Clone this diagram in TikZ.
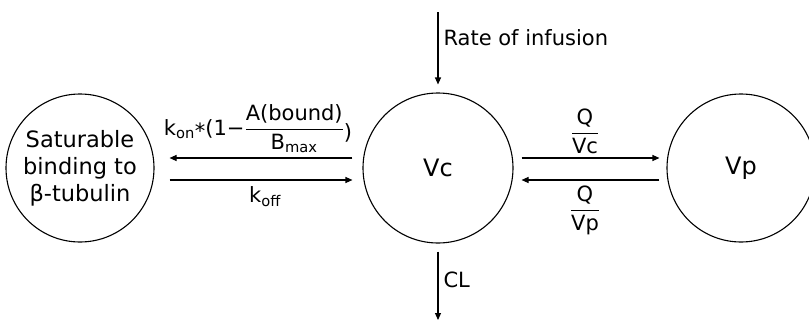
\documentclass[tikz,border=0pt]{standalone}
\usepackage{fontspec}
\setmainfont{DejaVu Sans}
\usepackage{amsmath}
\usepackage{tikz}
\usetikzlibrary{shapes,arrows.meta}

\tikzset{
    comp/.style={draw, circle, line width=1.1pt, align=center, inner sep=0pt,
        font=\fontsize{22.5}{27}\selectfont},
    flow/.style={-{Triangle[length=7pt,width=6pt]}, line width=1.1pt},
    lab/.style={font=\fontsize{21}{24}\selectfont}
}

\begin{document}
\begin{tikzpicture}[x=1pt, y=-1pt, lab]
    \useasboundingbox (0,0) rectangle (809,322);
    \node[comp, minimum size=148pt] (sat) at (80,168) {Saturable\\ binding to\\ β-tubulin};
    \node[comp, minimum size=150pt, font=\fontsize{24}{28}\selectfont] (vc) at (438,168) {Vc};
    \node[comp, minimum size=148pt, font=\fontsize{24}{28}\selectfont] (vp) at (741,168) {Vp};
    \coordinate (inf) at (438,12);
    \coordinate (elim) at (438,320);
    % binding to tubulin
    \draw[flow, shorten <=10pt, shorten >=15pt] ([yshift=10pt]vc.west) -- ([yshift=10pt]sat.east);
    \draw[flow, shorten <=15pt, shorten >=10pt] ([yshift=-12pt]sat.east) -- ([yshift=-12pt]vc.west);
    \node[anchor=base] (kon) at (258,135)
        {$\text{k}_{\text{on}}\text{\raisebox{-0.3ex}{*}(1−}\dfrac{\text{A(bound)}}{\text{B}_{\text{max}}}\text{\raisebox{-0.4ex}{)}}$};
    \node (koff) at (265,197) {$\text{k}_{\text{off}}$};
    % distribution to peripheral
    \draw[flow, shorten <=8pt, shorten >=7pt] ([yshift=10pt]vc.east) -- ([yshift=10pt]vp.west);
    \draw[flow, shorten <=7pt, shorten >=8pt] ([yshift=-12pt]vp.west) -- ([yshift=-12pt]vc.east);
    \node[anchor=base] (qvc) at (585,139) {$\dfrac{\text{Q}}{\text{Vc}}$};
    \node[anchor=base] (qvp) at (585,216) {$\dfrac{\text{Q}}{\text{Vp}}$};
    % infusion and clearance
    \draw[flow, shorten >=8pt] (inf) -- (vc.north);
    \draw[flow, shorten <=8pt] (vc.south) -- (elim);
    \node[anchor=west] (rate) at (440,38) {Rate of infusion};
    \node[anchor=west] (cl) at (440,280) {CL};
\end{tikzpicture}
\end{document}
